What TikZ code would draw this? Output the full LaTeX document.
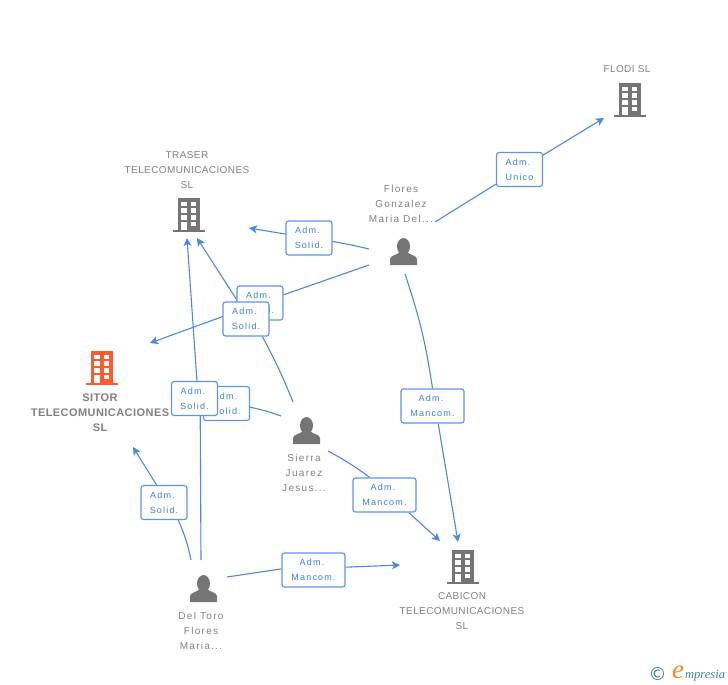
\documentclass[tikz,border=0pt]{standalone}
\usepackage{fontspec}
\setmainfont{Liberation Sans}
\newfontfamily\lblfont[LetterSpace=4]{Liberation Sans}
\newfontfamily\perfont[LetterSpace=13]{Liberation Sans}
\newfontfamily\boldlbl[LetterSpace=4]{Liberation Sans Bold}
\newfontfamily\admfont[LetterSpace=13]{Liberation Sans}
\newfontfamily\logofont{Liberation Serif Italic}
\newfontfamily\symfont{DejaVu Sans}
\usetikzlibrary{arrows.meta,backgrounds}
\definecolor{linkblue}{HTML}{4A88E4}
\definecolor{boxblue}{HTML}{5E96E6}
\definecolor{txtblue}{HTML}{3A7CE0}
\definecolor{grayicon}{HTML}{757575}
\definecolor{graytxt}{HTML}{808080}
\definecolor{orangeicon}{HTML}{FF5A2B}
\definecolor{logoteal}{HTML}{3F7F9A}
\definecolor{logoorange}{HTML}{F0881E}
\tikzset{
  adm/.style={draw=boxblue,line width=1.2pt,rounded corners=2.5pt,fill=white,inner sep=0pt,
    minimum width=46pt,minimum height=34pt,align=center,text=txtblue,
    execute at begin node={\rule{0pt}{9pt}},
    font=\admfont\fontsize{9}{15}\selectfont},
  admwide/.style={adm,minimum width=63pt},
  lab/.style={inner sep=0pt,align=center,text=graytxt,font=\lblfont\fontsize{10}{15}\selectfont},
  perlab/.style={lab,font=\perfont\fontsize{10}{15}\selectfont},
  mainlab/.style={lab,font=\boldlbl\fontsize{11}{15}\selectfont,text=graytxt},
  link/.style={draw=linkblue,line width=1.1pt},
  arr/.style={link,-{Stealth[length=8pt,width=8pt,inset=2pt]}},
  pics/building/.style={code={
    \fill[#1] (-16,-2) rectangle (16,0);
    \fill[#1] (-11,-34) rectangle (11,-2);
    \fill[white] (-7.7,-30.3) rectangle (-2.3,-25.7);
    \fill[white] (2,-30.3) rectangle (7.4,-25.7);
    \fill[white] (-7.7,-23.7) rectangle (-2.3,-19);
    \fill[white] (2,-23.7) rectangle (7.4,-19);
    \fill[white] (-7.7,-17) rectangle (-2.3,-12.3);
    \fill[white] (2,-17) rectangle (7.4,-12.3);
    \fill[white] (-7.7,-10.3) rectangle (-2.3,-2);
    \fill[white] (2,-10.3) rectangle (7.4,-5.7);
  }},
  pics/person/.style={code={
    \fill[grayicon] (0,-18.5) ellipse (6.5 and 8.5);
    \fill[grayicon] (-13.5,0) -- (-13.5,-6) .. controls (-13,-9.5) and (-7,-10) .. (-4,-12.5)
      -- (4,-12.5) .. controls (7,-10) and (13,-9.5) .. (13.5,-6) -- (13.5,0) -- cycle;
  }}
}
\begin{document}
\begin{tikzpicture}[x=1pt,y=-1pt]
\useasboundingbox (0,0) rectangle (728,685);
% icons
\pic at (630,117) {building=grayicon};
\pic at (189,232) {building=grayicon};
\pic at (102,385) {building=orangeicon};
\pic at (463,584) {building=grayicon};
\pic at (403.5,265) {person};
\pic at (306.5,444) {person};
\pic at (203.5,602) {person};
% labels
\node[lab] (lflodi) at (627,69.5) {FLODI SL};
\node[lab] (ltraser) at (187,170.5) {TRASER\\TELECOMUNICACIONES\\SL};
\node[mainlab] (lsitor) at (100,413) {SITOR\\TELECOMUNICACIONES\\SL};
\node[lab] (lcabicon) at (462,611.5) {CABICON\\TELECOMUNICACIONES\\SL};
\node[perlab] (lflores) at (401,204) {Flores\\Gonzalez\\Maria Del...};
\node[perlab] (lsierra) at (304,473) {Sierra\\Juarez\\Jesus...};
\node[perlab] (ltoro) at (201,631) {Del Toro\\Flores\\Maria...};
% relation boxes
\node[adm] (bunico) at (519.5,169.5) {Adm.\kern3pt\\Unico};
\node[adm] (bsolA) at (309,238) {Adm.\kern3pt\\Solid.};
\node[adm] (bsolB) at (260,303) {Adm.\kern3pt\\Solid.};
\node[adm] (bsolC) at (246,319) {Adm.\kern3pt\\Solid.};
\node[adm] (bsolD) at (226.5,403.5) {Adm.\kern3pt\\Solid.};
\node[adm] (bsolE) at (194.5,398.5) {Adm.\kern3pt\\Solid.};
\node[adm] (bsolF) at (164,502.5) {Adm.\kern3pt\\Solid.};
\node[admwide] (bmanA) at (432.5,406) {Adm.\kern3pt\\Mancom.};
\node[admwide] (bmanB) at (384.5,495) {Adm.\kern3pt\\Mancom.};
\node[admwide] (bmanC) at (313.5,570) {Adm.\kern3pt\\Mancom.};
% free ends
\coordinate (fA) at (435,222);
\coordinate (fB) at (369,249);
\coordinate (fC) at (369,265);
\coordinate (fD) at (405,274);
\coordinate (sA) at (293,402);
\coordinate (sB) at (281,416);
\coordinate (sC) at (328,451);
\coordinate (tA) at (201,560);
\coordinate (tB) at (191,560);
\coordinate (tC) at (227,577);
\coordinate (aFlodi) at (604,118);
\coordinate (aTraserA) at (249,228);
\coordinate (aTraserB) at (197,238);
\coordinate (aTraserC) at (187,238);
\coordinate (aSitorA) at (150,343);
\coordinate (aSitorB) at (133,447);
\coordinate (aCabA) at (458,542);
\coordinate (aCabB) at (440,541);
\coordinate (aCabC) at (400,565);
\begin{pgfonlayer}{background}
\draw[link] (fA) -- (bunico);
\draw[arr] (bunico) -- (aFlodi);
\draw[link] (fB) to[bend right=2] (bsolA);
\draw[arr] (bsolA) -- (aTraserA);
\draw[link] (fC) -- (bsolB);
\draw[arr] (bsolB) -- (aSitorA);
\draw[link] (sA) to[bend right=3] (bsolC.-47);
\draw[arr] (bsolC.115) -- (aTraserB);
\draw[link] (sB) to[bend right=4] (bsolD);
\draw[link] (tA) -- (bsolE.-72);
\draw[arr] (bsolE.82) -- (aTraserC);
\draw[link] (tB) to[bend right=6] (bsolF.-51);
\draw[arr] (bsolF.113) -- (aSitorB);
\draw[link] (fD) to[bend left=5] (bmanA.90);
\draw[arr] (bmanA.-72) -- (aCabA);
\draw[link] (sC) to[bend left=4] (bmanB.130.5);
\draw[arr] (bmanB.-36.7) -- (aCabB);
\draw[link] (tC) -- (bmanC.178);
\draw[arr] (bmanC.5.4) -- (aCabC);
\end{pgfonlayer}
% logo
\node[inner sep=0pt,text=logoteal,font=\symfont\fontsize{18}{18}\selectfont] (logoc) at (657.5,674) {©};
\node[inner sep=0pt,anchor=base west,text=logoorange,font=\logofont\fontsize{27}{27}\selectfont] (logoe) at (672,678.5) {e};
\node[inner sep=0pt,anchor=base west,text=logoteal,font=\logofont\fontsize{12.5}{13}\selectfont] (logot) at (685,678.5) {mpresia};
\end{tikzpicture}
\end{document}
